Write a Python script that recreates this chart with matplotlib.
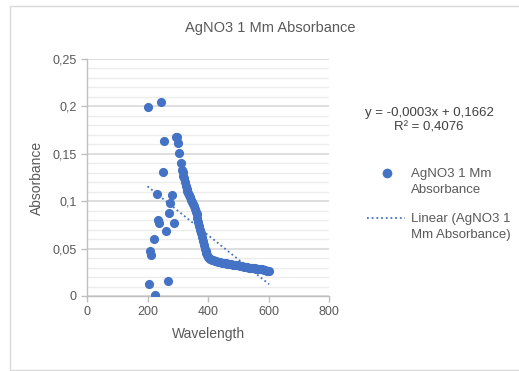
import numpy as np
import matplotlib.pyplot as plt
from matplotlib.lines import Line2D
from matplotlib.patches import Rectangle
from matplotlib.ticker import MultipleLocator, FuncFormatter

# Données (longueur d'onde en nm, absorbance)
wavelength_scatter = [200, 206, 208, 213, 220, 224, 230, 235, 238, 245, 250, 256, 261,
                      267, 272, 276, 282, 286, 293, 298, 301, 305, 310]
absorb_scatter = [0.199, 0.013, 0.047, 0.043, 0.060, 0.001, 0.108, 0.080, 0.077, 0.205,
                  0.131, 0.164, 0.069, 0.016, 0.088, 0.098, 0.107, 0.077, 0.168, 0.168,
                  0.161, 0.151, 0.140]

wavelength_curve = [314, 316, 318, 320, 323, 326, 329, 332, 335, 338, 341, 344, 347, 350,
                    353, 356, 359, 362, 365, 368, 371, 374, 377, 380, 383, 386, 389, 392,
                    395, 398, 401, 404, 408, 412, 417, 422, 428, 434, 440, 446, 452, 458,
                    464, 470, 476, 482, 488, 494, 500, 506, 512, 518, 524, 530, 536, 542,
                    548, 554, 560, 566, 572, 578, 584, 590, 596, 602]
absorb_curve = [0.133, 0.131, 0.127, 0.125, 0.120, 0.116, 0.113, 0.111, 0.109, 0.107, 0.104,
                0.101, 0.099, 0.097, 0.095, 0.092, 0.089, 0.086, 0.082, 0.078, 0.074, 0.070,
                0.066, 0.062, 0.058, 0.054, 0.050, 0.047, 0.045, 0.043, 0.041, 0.040, 0.039,
                0.038, 0.038, 0.037, 0.037, 0.036, 0.036, 0.035, 0.035, 0.035, 0.034, 0.034,
                0.034, 0.033, 0.033, 0.033, 0.033, 0.032, 0.032, 0.031, 0.031, 0.031, 0.030,
                0.030, 0.030, 0.030, 0.029, 0.029, 0.028, 0.028, 0.027, 0.027, 0.026, 0.026]

wavelength = wavelength_scatter + wavelength_curve
absorbance = absorb_scatter + absorb_curve

trend_slope = -0.000257
trend_intercept = 0.1671
equation_text = "y = -0,0003x + 0,1662\nR² = 0,4076"

blue = "#4472C4"
grey_txt = "#595959"
plt.rcParams['font.family'] = ['Liberation Sans', 'DejaVu Sans']

fig = plt.figure(figsize=(5.19, 3.71), dpi=100)
ax = fig.add_axes([87 / 519, 1 - 296 / 371, 242 / 519, 237 / 371])

ax.plot(wavelength, absorbance, 'o', color=blue, markersize=6.6, markeredgewidth=0, zorder=3)

x_tr = np.array([min(wavelength), max(wavelength)])
ax.plot(x_tr, trend_slope * x_tr + trend_intercept, linestyle=(0, (1, 1.6)), color=blue,
        linewidth=1.3, zorder=4)

ax.set_xlim(0, 800)
ax.set_ylim(0, 0.25)
ax.xaxis.set_major_locator(MultipleLocator(200))
ax.yaxis.set_major_locator(MultipleLocator(0.05))
ax.yaxis.set_minor_locator(MultipleLocator(0.01))
ax.yaxis.set_major_formatter(FuncFormatter(lambda v, p: ("%g" % round(v, 2)).replace('.', ',')))

ax.grid(axis='y', which='major', color='#d4d4d4', linewidth=1.1, zorder=0)
ax.grid(axis='y', which='minor', color='#ececec', linewidth=1.0, zorder=0)
ax.set_axisbelow(True)
for s in ['top', 'right']:
    ax.spines[s].set_visible(False)
for s in ['left', 'bottom']:
    ax.spines[s].set_color('#bfbfbf')
    ax.spines[s].set_linewidth(1.0)
ax.tick_params(axis='both', which='major', colors='#bfbfbf', labelcolor=grey_txt,
               labelsize=9, length=4, width=1.0)
ax.tick_params(axis='y', which='minor', length=0)

ax.set_xlabel("Wavelength", fontsize=10, color=grey_txt, labelpad=6)
ax.set_ylabel("Absorbance", fontsize=10, color=grey_txt, labelpad=6)
fig.text(270 / 519, 1 - 28 / 371, "AgNO3 1 Mm Absorbance", ha='center', va='center',
         fontsize=10.5, color=grey_txt)

# Equation et R²
fig.text(429 / 519, 1 - 120 / 371, equation_text, ha='center', va='center', fontsize=9.5,
         color='#404040', linespacing=1.25, multialignment='center')

# Légende
fig.add_artist(Line2D([387 / 519], [1 - 173 / 371], marker='o', color=blue, markersize=7,
                      markeredgewidth=0, linestyle='none'))
fig.text(411 / 519, 1 - 182 / 371, "AgNO3 1 Mm\nAbsorbance", ha='left', va='center',
         fontsize=9.5, color=grey_txt, linespacing=1.35)
fig.add_artist(Line2D([367 / 519, 405 / 519], [1 - 218 / 371, 1 - 218 / 371], color=blue,
                      linestyle=(0, (1, 1.6)), linewidth=1.3))
fig.text(411 / 519, 1 - 227 / 371, "Linear (AgNO3 1\nMm Absorbance)", ha='left', va='center',
         fontsize=9.5, color=grey_txt, linespacing=1.35)

# Cadre du graphique
fig.add_artist(Rectangle((9.5 / 519, 1.5 / 371), 520 / 519, 364 / 371, transform=fig.transFigure,
                         fill=False, edgecolor='#d9d9d9', linewidth=1.0))

fig.savefig("out.png", dpi=100)
